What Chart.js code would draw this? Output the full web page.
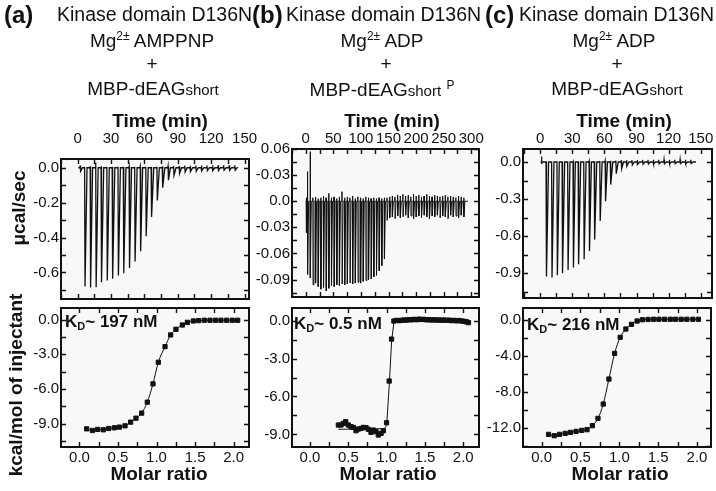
<!DOCTYPE html>
<html>
<head>
<meta charset="utf-8">
<script src="https://cdn.jsdelivr.net/npm/chart.js@4.4.1/dist/chart.umd.min.js"></script>
<style>
html, body { margin: 0; padding: 0; background: #fff; }
#fig { position: relative; width: 716px; height: 491px; overflow: hidden; font-family: "Liberation Sans", Arial, sans-serif; color: #111; }
#fig canvas { position: absolute; left: 0; top: 0; }
.c { position: absolute; white-space: nowrap; transform: translate(-50%, -50%); }
.l { position: absolute; white-space: nowrap; transform: translate(0, -50%); }
.v { position: absolute; white-space: nowrap; transform: translate(-50%, -50%) rotate(-90deg); font-weight: bold; font-size: 19px; }
.tag { font-weight: bold; font-size: 24px; }
.t1 { font-size: 19.5px; }
.t2 { font-size: 19px; }
.ax { font-weight: bold; font-size: 19px; }
.kd { font-weight: bold; font-size: 17px; }
.kd sub { font-size: 11px; vertical-align: -3px; }
.sm { font-size: 15px; }
sup { font-size: 12px; vertical-align: 7px; }
</style>
</head>
<body>
<div id="fig">
  <canvas id="ta" width="716" height="491"></canvas>
  <canvas id="tb" width="716" height="491"></canvas>
  <canvas id="tc" width="716" height="491"></canvas>
  <canvas id="ba" width="716" height="491"></canvas>
  <canvas id="bb" width="716" height="491"></canvas>
  <canvas id="bc" width="716" height="491"></canvas>

  <div class="l tag" style="left:4px;top:15px">(a)</div>
  <div class="l tag" style="left:252px;top:15px">(b)</div>
  <div class="l tag" style="left:485px;top:15px">(c)</div>
  <div class="l t1" style="left:57px;top:14px">Kinase domain D136N</div>
  <div class="l t1" style="left:286px;top:14px">Kinase domain D136N</div>
  <div class="l t1" style="left:519px;top:14px">Kinase domain D136N</div>
  <div class="c t2" style="left:152px;top:40px">Mg<sup>2±</sup> AMPPNP</div>
  <div class="c t2" style="left:382px;top:40px">Mg<sup>2±</sup> ADP</div>
  <div class="c t2" style="left:614px;top:40px">Mg<sup>2±</sup> ADP</div>
  <div class="c t2" style="left:152px;top:64px">+</div>
  <div class="c t2" style="left:386px;top:64px">+</div>
  <div class="c t2" style="left:617px;top:64px">+</div>
  <div class="c t2" style="left:153px;top:89px">MBP-dEAG<span class="sm">short</span></div>
  <div class="c t2" style="left:382px;top:89px">MBP-dEAG<span class="sm">short</span> <sup>P</sup></div>
  <div class="c t2" style="left:617px;top:89px">MBP-dEAG<span class="sm">short</span></div>

  <div class="c ax" style="left:160px;top:121px">Time (min)</div>
  <div class="c ax" style="left:392px;top:121px">Time (min)</div>
  <div class="c ax" style="left:624px;top:121px">Time (min)</div>
  <div class="c ax" style="left:159px;top:474px">Molar ratio</div>
  <div class="c ax" style="left:388px;top:474px">Molar ratio</div>
  <div class="c ax" style="left:620px;top:474px">Molar ratio</div>
  <div class="v" style="left:19px;top:208px">μcal/sec</div>
  <div class="v" style="left:16px;top:385px">kcal/mol of injectant</div>

  <div class="l kd" style="left:65px;top:322px">K<sub>D</sub>~ 197 nM</div>
  <div class="l kd" style="left:294px;top:324px">K<sub>D</sub>~ 0.5 nM</div>
  <div class="l kd" style="left:527px;top:325px">K<sub>D</sub>~ 216 nM</div>
</div>

<script>
// ---- raw thermograms (injection time, min / peak and upward blip, ucal/sec)
const timeA = [2, 6, 11, 16, 21, 26, 31, 36, 41, 46, 51, 56, 61, 66, 71, 76, 81, 86, 91, 96, 101, 106, 111, 116, 121, 126, 131, 136, 141];
const peakA = [-0.02, -0.680, -0.686, -0.684, -0.656, -0.646, -0.636, -0.617, -0.604, -0.575, -0.537, -0.479, -0.393, -0.282, -0.188, -0.115, -0.071, -0.044, -0.033, -0.025, -0.022, -0.020, -0.018, -0.017, -0.016, -0.016, -0.015, -0.015, -0.015];
const blipA = [0.013, 0.006, 0.008, 0.030, 0.008, 0.006, 0.005, 0.006, 0.005, 0.006, 0.005, 0.006, 0.005, 0.006, 0.006, 0.008, 0.008, 0.010, 0.010, 0.012, 0.012, 0.012, 0.013, 0.013, 0.014, 0.014, 0.014, 0.014, 0.014];

const timeB = [0.8, 3.0, 7.8, 12.6, 17.4, 22.2, 27.0, 31.8, 36.6, 41.4, 46.2, 51.0, 55.8, 60.6, 65.4, 70.2, 75.0, 79.8, 84.6, 89.4, 94.2, 99.0, 103.8, 108.6, 113.4, 118.2, 123.0, 127.8, 132.6, 137.4, 142.2,
  147.0, 151.8, 156.6, 161.4, 166.2, 171.0, 175.8, 180.6, 185.4, 190.2, 195.0, 199.8, 204.6, 209.4, 214.2, 219.0, 223.8, 228.6, 233.4, 238.2, 243.0, 247.8, 252.6, 257.4, 262.2, 267.0, 271.8, 276.6, 281.4, 286.2];
const peakB = [-0.036, -0.084, -0.088, -0.096, -0.094, -0.098, -0.101, -0.099, -0.103, -0.100, -0.097, -0.098, -0.096, -0.097, -0.095, -0.096, -0.095, -0.094, -0.095, -0.094, -0.093, -0.094, -0.092, -0.091, -0.090, -0.089, -0.087, -0.085, -0.080, -0.074, -0.066,
  -0.022, -0.019, -0.018, -0.020, -0.017, -0.019, -0.018, -0.016, -0.019, -0.017, -0.020, -0.018, -0.017, -0.019, -0.016, -0.018, -0.020, -0.017, -0.018, -0.016, -0.019, -0.017, -0.018, -0.020, -0.016, -0.018, -0.017, -0.019, -0.016, -0.018];
const blipB = [0.004, 0.034, 0.057, 0.004, 0.005, 0.003, 0.004, 0.006, 0.004, 0.009, 0.004, 0.005, 0.003, 0.005, 0.011, 0.004, 0.005, 0.004, 0.006, 0.003, 0.005, 0.004, 0.003, 0.005, 0.004, 0.003, 0.004, 0.003, 0.004, 0.003, 0.004,
  0.004, 0.005, 0.006, 0.005, 0.007, 0.006, 0.008, 0.006, 0.007, 0.005, 0.008, 0.006, 0.007, 0.005, 0.006, 0.008, 0.006, 0.005, 0.007, 0.006, 0.005, 0.006, 0.007, 0.005, 0.006, 0.005, 0.004, 0.006, 0.005, 0.004];

const timeC = [1, 5.5, 10.5, 15.5, 20.5, 25.5, 30.5, 35.5, 40.5, 45.5, 50.5, 55.5, 60.5, 65.5, 70.5, 75.5, 80.5, 85.5, 90.5, 95.5, 100.5, 105.5, 110.5, 115.5, 120.5, 125.5, 130.5, 135.5, 140.5];
const peakC = [-0.006, -0.927, -0.935, -0.916, -0.900, -0.873, -0.854, -0.828, -0.787, -0.720, -0.626, -0.478, -0.317, -0.183, -0.094, -0.054, -0.035, -0.025, -0.020, -0.018, -0.016, -0.015, -0.015, -0.014, -0.014, -0.014, -0.013, -0.013, -0.013];
const blipC = [0.045, 0.005, 0.004, 0.005, 0.004, 0.005, 0.004, 0.005, 0.005, 0.006, 0.006, 0.007, 0.008, 0.010, 0.012, 0.014, 0.015, 0.016, 0.016, 0.017, 0.017, 0.018, 0.018, 0.018, 0.018, 0.018, 0.018, 0.018, 0.018];

// ---- integrated heats (molar ratio / kcal per mol of injectant)
const molarA = [0.093, 0.167, 0.236, 0.309, 0.379, 0.452, 0.517, 0.591, 0.664, 0.733, 0.807, 0.880, 0.954, 1.023, 1.110, 1.183, 1.252, 1.335, 1.400, 1.477, 1.547, 1.620, 1.694, 1.767, 1.836, 1.910, 1.983, 2.053];
const kcalA = [-9.45, -9.59, -9.50, -9.53, -9.42, -9.36, -9.30, -9.19, -8.87, -8.53, -8.09, -7.14, -5.56, -3.69, -2.34, -1.33, -0.84, -0.47, -0.24, -0.12, -0.09, -0.06, -0.06, -0.06, -0.06, -0.06, -0.06, -0.06];

const molarB = [0.370, 0.405, 0.435, 0.466, 0.500, 0.535, 0.566, 0.600, 0.630, 0.666, 0.696, 0.731, 0.761, 0.796, 0.826, 0.861, 0.891, 0.927, 0.957, 0.999, 1.033, 1.064, 1.094,
  1.129, 1.162, 1.194, 1.227, 1.259, 1.292, 1.325, 1.357, 1.390, 1.422, 1.455, 1.488, 1.520, 1.553, 1.585, 1.618, 1.651, 1.683, 1.716, 1.748, 1.781, 1.814, 1.846, 1.879, 1.911, 1.944, 1.977, 2.009, 2.042, 2.068];
const kcalB = [-8.26, -8.26, -8.13, -8.00, -8.26, -8.39, -8.45, -8.71, -8.58, -8.53, -8.45, -8.47, -8.60, -8.84, -8.66, -8.79, -9.05, -8.92, -8.71, -8.08, -4.78, -1.46, -0.03,
  0.02, 0.00, 0.03, 0.05, 0.04, 0.08, 0.06, 0.10, 0.07, 0.12, 0.09, 0.10, 0.06, 0.08, 0.05, 0.07, 0.04, 0.06, 0.03, 0.05, 0.02, 0.04, 0.00, 0.02, -0.02, 0.01, -0.03, -0.05, -0.10, -0.16];
const fitMolarB = [0.37, 0.97, 1.0, 1.035, 1.065, 1.095, 1.13, 2.07];
const fitKcalB = [-8.6, -8.55, -8.3, -5.0, -1.6, -0.1, 0.05, 0.05];

const molarC = [0.089, 0.162, 0.230, 0.303, 0.371, 0.443, 0.516, 0.584, 0.653, 0.725, 0.793, 0.866, 0.939, 1.011, 1.084, 1.156, 1.229, 1.297, 1.370, 1.442, 1.510, 1.583, 1.656, 1.724, 1.796, 1.869, 1.946, 2.018];
const kcalC = [-12.70, -12.85, -12.70, -12.59, -12.48, -12.37, -12.26, -12.18, -11.74, -10.93, -9.34, -6.57, -3.73, -1.95, -1.03, -0.51, -0.14, 0.00, 0.03, 0.05, 0.05, 0.05, 0.05, 0.05, 0.05, 0.05, 0.05, 0.05];

// ---- tick labels
const timeTicksA = [0, 30, 60, 90, 120, 150];
const timeTicksB = [0, 50, 100, 150, 200, 250, 300];
const powerTicksA = [0, -0.2, -0.4, -0.6];
const powerLabelsA = ['0.0', '-0.2', '-0.4', '-0.6'];
const powerTicksB = [0.06, 0.03, 0, -0.03, -0.06, -0.09];
const powerLabelsB = ['0.06', '-0.03', '0.0', '-0.03', '-0.06', '-0.09'];
const powerTicksC = [0, -0.3, -0.6, -0.9];
const powerLabelsC = ['0.0', '-0.3', '-0.6', '-0.9'];
const ratioTicks = [0, 0.5, 1.0, 1.5, 2.0];
const ratioLabels = ['0.0', '0.5', '1.0', '1.5', '2.0'];
const heatTicksAB = [0, -3, -6, -9];
const heatLabelsAB = ['0.0', '-3.0', '-6.0', '-9.0'];
const heatTicksC = [0, -4, -8, -12];
const heatLabelsC = ['0.0', '-4.0', '-8.0', '-12.0'];

const FONT = '"Liberation Sans", Arial, sans-serif';
const YW = 40, XH = 30;

function thermogram(times, peaks, blips, start, end, w) {
  const pts = [{x: start, y: 0}];
  times.forEach((t, i) => {
    pts.push({x: t, y: 0}, {x: t + w * 0.15, y: blips[i]}, {x: t + w * 0.4, y: peaks[i]}, {x: t + w * 1.6, y: 0});
  });
  pts.push({x: end, y: 0});
  return pts;
}

function pairs(xs, ys) {
  return xs.map((x, i) => ({x: x, y: ys[i]}));
}

function labeler(ticks, labels) {
  return function (v) {
    const i = ticks.findIndex(t => Math.abs(t - v) < 1e-6);
    return i < 0 ? '' : (labels ? labels[i] : String(ticks[i]));
  };
}

const frame = {
  id: 'frame',
  beforeDatasetsDraw(chart) {
    const {ctx, chartArea: a} = chart;
    ctx.save();
    ctx.fillStyle = '#f8f8f8';
    ctx.fillRect(a.left, a.top, a.width, a.height);
    ctx.restore();
  },
  afterDraw(chart) {
    const {ctx, chartArea: a, scales} = chart;
    ctx.save();
    ctx.strokeStyle = '#111';
    ctx.lineWidth = 1.4;
    ctx.beginPath();
    scales.x.ticks.forEach(t => {
      const p = Math.round(scales.x.getPixelForValue(t.value)) + 0.5;
      ctx.moveTo(p, a.top); ctx.lineTo(p, a.top + 5);
      ctx.moveTo(p, a.bottom); ctx.lineTo(p, a.bottom - 5);
    });
    scales.y.ticks.forEach(t => {
      const p = Math.round(scales.y.getPixelForValue(t.value)) + 0.5;
      ctx.moveTo(a.left, p); ctx.lineTo(a.left + 5, p);
      ctx.moveTo(a.right, p); ctx.lineTo(a.right - 5, p);
    });
    ctx.stroke();
    ctx.lineWidth = 2;
    ctx.strokeRect(a.left, a.top, a.width, a.height);
    ctx.restore();
  }
};

function panel(id, o) {
  const [L, T, R, B] = o.box;
  const top = o.xTop;
  return new Chart(document.getElementById(id), {
    type: 'scatter',
    data: {datasets: o.datasets},
    options: {
      responsive: false,
      animation: false,
      events: [],
      layout: {padding: {left: L - YW, right: 716 - R, top: top ? T - XH : T, bottom: top ? 491 - B : 491 - B - XH}},
      plugins: {legend: {display: false}, tooltip: {enabled: false}},
      scales: {
        x: {
          type: 'linear', position: top ? 'top' : 'bottom', min: o.x[0], max: o.x[1],
          grid: {display: false, drawTicks: false}, border: {display: false},
          afterFit: s => { s.height = XH; },
          ticks: {stepSize: o.x[2], autoSkip: false, includeBounds: false, maxRotation: 0, minRotation: 0,
            padding: o.xPad, color: '#111', font: {family: FONT, size: 15},
            callback: labeler(o.xTicks, o.xLabels)}
        },
        y: {
          type: 'linear', min: o.y[0], max: o.y[1],
          grid: {display: false, drawTicks: false}, border: {display: false},
          afterFit: s => { s.width = YW; },
          ticks: {stepSize: o.y[2], autoSkip: false, includeBounds: false,
            padding: 2, color: '#111', font: {family: FONT, size: 15},
            callback: labeler(o.yTicks, o.yLabels)}
        }
      }
    },
    plugins: [frame]
  });
}

const traceStyle = {showLine: true, borderColor: '#111', pointRadius: 0, tension: 0};
const pointStyle = {pointStyle: 'rect', pointRadius: 3, backgroundColor: '#111', borderColor: '#111', borderWidth: 1};

panel('ta', {
  box: [61, 159, 249, 299], xTop: true, xPad: 11,
  x: [-15, 154, 15], xTicks: timeTicksA,
  y: [-0.752, 0.05, 0.1], yTicks: powerTicksA, yLabels: powerLabelsA,
  datasets: [Object.assign({data: thermogram(timeA, peakA, blipA, 0.5, 143, 1.5), borderWidth: 1.3}, traceStyle)]
});
panel('tb', {
  box: [292, 149, 479, 297], xTop: true, xPad: 1,
  x: [-25, 314, 25], xTicks: timeTicksB,
  y: [-0.11, 0.06, 0.015], yTicks: powerTicksB, yLabels: powerLabelsB,
  datasets: [Object.assign({data: thermogram(timeB, peakB, blipB, 0, 294, 1.4), borderWidth: 1}, traceStyle)]
});
panel('tc', {
  box: [523, 149, 712, 298], xTop: true, xPad: 1,
  x: [-16, 160.5, 15], xTicks: timeTicksA,
  y: [-1.1, 0.105, 0.15], yTicks: powerTicksC, yLabels: powerLabelsC,
  datasets: [Object.assign({data: thermogram(timeC, peakC, blipC, 0.5, 145.5, 1.5), borderWidth: 1.3}, traceStyle)]
});

panel('ba', {
  box: [61, 308, 249, 447], xTop: false, xPad: 2,
  x: [-0.24, 2.2, 0.25], xTicks: ratioTicks, xLabels: ratioLabels,
  y: [-11.02, 1, 1.5], yTicks: heatTicksAB, yLabels: heatLabelsAB,
  datasets: [Object.assign({data: pairs(molarA, kcalA), showLine: true, cubicInterpolationMode: 'monotone'}, pointStyle)]
});
panel('bb', {
  box: [292, 308, 479, 447], xTop: false, xPad: 2,
  x: [-0.235, 2.205, 0.25], xTicks: ratioTicks, xLabels: ratioLabels,
  y: [-10, 1, 1.5], yTicks: heatTicksAB, yLabels: heatLabelsAB,
  datasets: [
    Object.assign({data: pairs(molarB, kcalB), showLine: false}, pointStyle),
    {data: pairs(fitMolarB, fitKcalB), showLine: true, borderColor: '#111', borderWidth: 1, pointRadius: 0, tension: 0}
  ]
});
panel('bc', {
  box: [523, 308, 712, 447], xTop: false, xPad: 2,
  x: [-0.24, 2.18, 0.25], xTicks: ratioTicks, xLabels: ratioLabels,
  y: [-14.1, 1.3, 2], yTicks: heatTicksC, yLabels: heatLabelsC,
  datasets: [Object.assign({data: pairs(molarC, kcalC), showLine: true, cubicInterpolationMode: 'monotone'}, pointStyle)]
});
</script>
</body>
</html>
